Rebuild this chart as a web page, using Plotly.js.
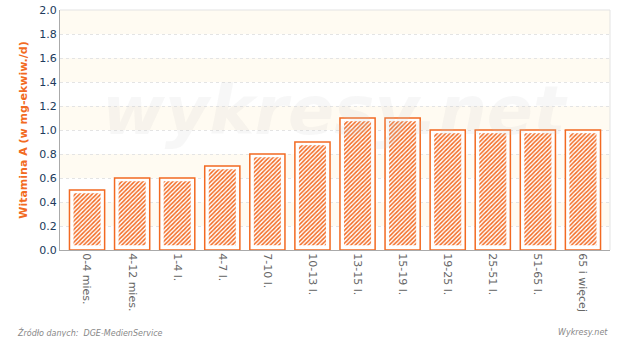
<!DOCTYPE html>
<html><head><meta charset="utf-8">
<script src="https://cdn.plot.ly/plotly-3.0.1.min.js"></script>
<style>html,body{margin:0;padding:0;background:#fff}#c{width:620px;height:337px}</style>
</head><body><div id="c"></div>
<script>
const categories = ["0-4 mies.","4-12 mies.","1-4 l.","4-7 l.","7-10 l.","10-13 l.","13-15 l.","15-19 l.","19-25 l.","25-51 l.","51-65 l.","65 i więcej"];
const values = [0.5,0.6,0.6,0.7,0.8,0.9,1.1,1.1,1.0,1.0,1.0,1.0];
const orange = "#f26a22";
const innerBase = 0.04, innerTopGap = 0.028;

const outer = {type:"bar", x:categories, y:values, width:0.78,
  marker:{color:"#ffffff", line:{color:orange, width:1.5}}, hoverinfo:"skip"};
const inner = {type:"bar", x:categories, y:values.map(v=>v-innerTopGap-innerBase), base:innerBase, width:0.6,
  marker:{color:"#ffffff", line:{width:0}, pattern:{shape:"/", fgcolor:orange, bgcolor:"#ffffff", size:3, solidity:0.5}}, hoverinfo:"skip"};

const bands = [];
for (let b=0; b<2.0; b+=0.4) {
  bands.push({type:"rect", xref:"paper", yref:"y", x0:0, x1:1, y0:b+0.2, y1:b+0.4, fillcolor:"#fffbf2", line:{width:0}, layer:"below"});
}
const layout = {
  width:620, height:337, margin:{l:60, r:10, t:10, b:87},
  paper_bgcolor:"#fff", plot_bgcolor:"#fff", barmode:"overlay", showlegend:false,
  font:{family:"DejaVu Sans", size:11},
  xaxis:{range:[-0.6, 11.6], tickangle:90, tickfont:{color:"#666", size:11, family:"DejaVu Sans"}, showline:true, linecolor:"#aaaaaa", linewidth:1, ticks:"", fixedrange:true},
  yaxis:{range:[0,2.0], dtick:0.2, tickformat:".1f", tickfont:{color:"#203a5c", size:11}, showline:true, linecolor:"#aaaaaa", linewidth:1,
    gridcolor:"#e4e4e4", griddash:"3px,3px", zeroline:false, ticks:"", ticklen:0,
    title:{text:"Witamina A (w mg-ekwiw./d)", font:{color:orange, size:11, family:"DejaVu Sans", weight:"bold"}, standoff:9}},
  shapes: bands.concat([
    {type:"line", xref:"paper", yref:"paper", x0:0, x1:1, y0:1, y1:1, line:{color:"#e3e3e3", width:1}},
    {type:"line", xref:"paper", yref:"paper", x0:1, x1:1, y0:0, y1:1, line:{color:"#e3e3e3", width:1}}
  ]),
  annotations:[
    {text:"<b><i>wykresy.net</i></b>", xref:"paper", yref:"paper", x:0.5, y:0.58, showarrow:false, font:{size:68, color:"rgba(200,200,200,0.15)", family:"DejaVu Sans"}},
    {text:"<i>Źródło danych:  DGE-MedienService</i>", xref:"paper", yref:"paper", x:-0.082, xanchor:"left", y:-0.345, yanchor:"middle", showarrow:false, font:{size:8, color:"#888"}},
    {text:"<i>Wykresy.net</i>", xref:"paper", yref:"paper", x:1, xanchor:"right", y:-0.345, yanchor:"middle", showarrow:false, font:{size:8, color:"#888"}}
  ]
};
Plotly.newPlot("c", [outer, inner], layout, {displayModeBar:false, staticPlot:true});
</script></body></html>
